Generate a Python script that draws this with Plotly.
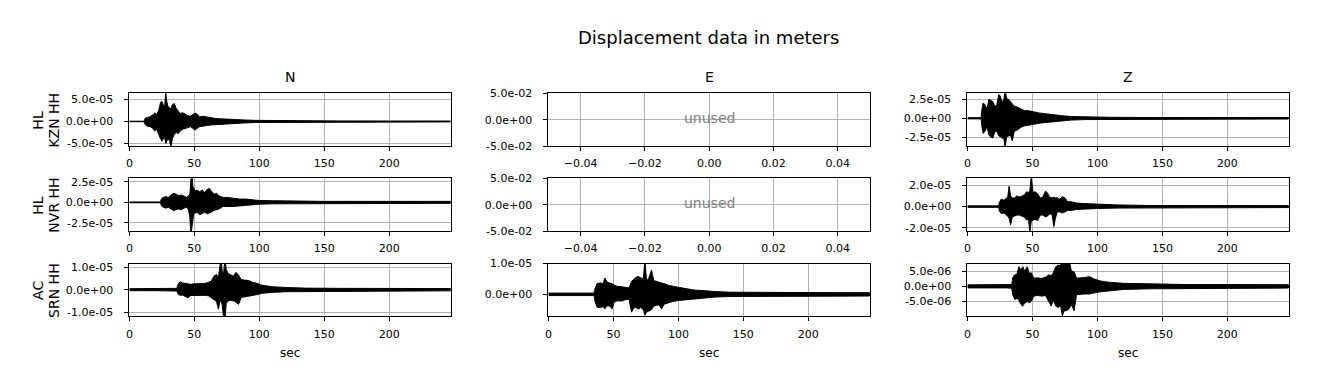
import plotly.graph_objects as go

W, H = 1318, 389
UM = 1e-6  # envelope values below are in micrometres

# ---------------- data (envelopes, micrometres) ----------------
n_kzn_t = [0, 11, 11.5, 12.5, 14, 16, 18, 19.5, 21, 22.5, 24, 25, 26, 27, 28, 28.5, 29.5, 31, 32, 33,
           34.5, 36, 37.5, 39, 41, 43, 45, 47, 49, 50.5, 52, 54, 56, 58, 60, 63, 66, 70, 75, 80,
           88, 96, 110, 130, 160, 200, 247]
n_kzn_up = [0.5, 0.5, 3, 8, 9, 11, 15, 19, 16, 25, 44, 46, 38, 30, 70, 50, 35, 30, 28, 38,
            41, 30, 25, 18, 20, 16, 13, 12, 16, 19, 17, 10, 12, 11, 9, 8, 7, 6, 5, 4.5,
            3.5, 2.5, 2.0, 1.5, 1.2, 1.0, 1.0]
n_kzn_lo = [-0.5, -0.5, -3, -8, -11, -12, -16, -22, -18, -30, -40, -45, -42, -35, -50, -48, -38, -45, -58, -40,
            -30, -25, -28, -22, -18, -16, -14, -12, -16, -20, -16, -12, -10, -10, -9, -8, -7, -6, -5, -4.5,
            -3.5, -2.5, -2.0, -1.5, -1.2, -1.0, -1.0]

n_nvr_t = [0, 24, 24.5, 26, 28, 30, 32, 34, 36, 38, 40, 42, 44, 45.5, 46.5, 47.3, 48, 48.8, 49.5, 50.5,
           52, 54, 56, 58, 60, 61.5, 63, 65, 67, 69, 72, 76, 80, 85, 90, 95, 100, 110, 125, 150,
           180, 210, 247]
n_nvr_up = [0.5, 0.5, 4, 6, 7, 6, 9, 11, 10, 8, 9, 7, 6, 8, 10, 26, 40, 20, 18, 14,
            15, 13, 15, 12, 16, 17, 14, 10, 11, 8, 6, 6, 5, 4, 4, 3, 2.2, 2.0, 1.5, 1.2,
            1.2, 1.2, 1.2]
n_nvr_lo = [-0.5, -0.5, -4, -6, -7, -6, -8, -10, -9, -8, -9, -7, -6, -9, -18, -40, -35, -22, -14, -13,
            -12, -15, -14, -12, -14, -13, -12, -10, -9, -8, -5, -5, -5, -4, -4, -3, -2.2, -1.8, -1.5, -1.2,
            -1.2, -1.2, -1.2]

n_srn_t = [0, 10, 20, 30, 36.5, 37.5, 39, 41, 43, 45, 47, 50, 53, 56, 59, 61, 63, 65, 67, 68.5,
           69.5, 70.5, 71.5, 72.5, 73.5, 74.5, 76, 78, 80, 82, 84, 86, 89, 92, 95, 98, 102, 110, 120, 135,
           160, 190, 220, 247]
n_srn_up = [0.45, 0.45, 0.45, 0.45, 0.6, 2.5, 3.5, 3.0, 2.8, 2.6, 2.4, 2.6, 2.5, 2.7, 2.9, 3.2, 3.8, 6.0, 6.8, 5.5,
            9, 14, 8, 7, 14, 9, 7.2, 6.5, 6.0, 7.7, 6.5, 4.5, 4.2, 4.0, 3.2, 2.9, 2.0, 1.3, 1.0, 0.7,
            0.6, 0.55, 0.55, 0.5]
n_srn_lo = [-0.45, -0.45, -0.45, -0.45, -0.6, -2.0, -2.5, -2.4, -2.8, -3.6, -2.6, -2.5, -2.4, -2.6, -2.5, -2.8, -3.6, -4.5, -5.2, -8.7,
            -5.5, -5.0, -7, -13, -14, -6, -5.0, -4.8, -5.0, -5.5, -6.5, -3.5, -3.2, -3.0, -2.5, -2.2, -1.6, -1.2, -0.9, -0.7,
            -0.6, -0.55, -0.55, -0.5]

e_srn_t = [0, 10, 20, 30, 35, 36, 37.5, 40, 42, 43.5, 45, 47, 49, 50.5, 53, 56, 59, 62, 64, 65.5,
           67, 69, 71, 73, 74.2, 75.5, 77, 79.3, 81, 83, 85, 87, 89, 92, 96, 100, 105, 112, 120, 128,
           140, 160, 190, 220, 247]
e_srn_up = [0.4, 0.4, 0.4, 0.4, 0.4, 2.0, 3.5, 3.7, 3.5, 5.3, 4.0, 3.7, 3.5, 3.0, 2.6, 2.5, 2.2, 2.1, 4.2, 5.0,
            5.5, 5.8, 5.3, 5.0, 11, 4.7, 5.0, 7.9, 4.5, 4.2, 3.8, 3.7, 3.5, 3.0, 2.6, 2.3, 1.8, 1.4, 1.2, 0.9,
            0.7, 0.6, 0.6, 0.55, 0.55]
e_srn_lo = [-0.4, -0.4, -0.4, -0.4, -0.4, -2.5, -4.2, -4.3, -4.0, -4.7, -3.7, -3.8, -4.7, -2.5, -2.1, -2.2, -1.8, -1.6, -5.8, -4.5,
            -4.2, -4.8, -4.3, -5.0, -6.8, -5.8, -5.5, -5.0, -3.8, -3.6, -3.4, -4.7, -3.2, -2.8, -2.3, -2.0, -1.6, -1.4, -1.2, -0.9,
            -0.7, -0.6, -0.6, -0.55, -0.55]

z_kzn_t = [0, 10.5, 11, 12, 13.5, 15, 16.5, 18, 19.5, 21, 22.5, 24, 25, 26.5, 28, 29, 30, 31.5, 33, 34.5,
           36, 38, 41, 44, 47, 51, 55, 60, 65, 72, 80, 92, 110, 140, 180, 247]
z_kzn_up = [0.8, 0.8, 10, 20, 18, 12, 25, 24, 22, 16, 17, 31, 30, 22, 24, 38, 26, 25, 22, 20,
            16, 15, 12, 10, 10, 8, 7, 6, 4.7, 3.5, 2.3, 1.7, 1.3, 1.0, 1.0, 1.0]
z_kzn_lo = [-0.8, -0.8, -10, -20, -17, -11, -22, -25, -26, -18, -17, -23, -24, -26, -27, -40, -25, -24, -22, -30,
            -17, -16, -12, -10, -9, -8, -6.5, -6, -4.5, -3.5, -2.3, -1.7, -1.3, -1.0, -1.0, -1.0]

z_nvr_t = [0, 24, 24.5, 26, 28, 30, 31, 32, 33.2, 34.5, 36, 38, 40, 42, 44, 45.5, 47, 48, 49, 50.5,
           52, 54, 56, 58, 60, 61.5, 63, 65, 66.5, 67.5, 69, 71, 73, 75, 77, 80, 84, 90, 100, 115,
           140, 180, 247]
z_nvr_up = [0.7, 0.7, 4, 7, 6, 8.4, 9, 19, 10, 8, 8, 10, 9, 10, 11, 14, 13, 15, 28, 13,
            14, 12, 8, 9, 14.4, 13, 9, 8, 9, 8, 8.4, 7, 9.3, 8, 4.8, 4.5, 3.3, 2.8, 2.1, 1.6,
            1.0, 0.9, 0.9]
z_nvr_lo = [-0.7, -0.7, -4, -6.6, -6, -8, -9, -11, -17, -9.6, -9, -8, -8, -9, -10, -12.6, -12, -25, -14, -12.6,
            -12, -13, -8, -8, -9.6, -9, -7, -7, -18.7, -12, -5, -5, -6, -5, -3.6, -3.6, -2.7, -2.3, -1.8, -1.4,
            -1.0, -0.9, -0.9]

z_srn_t = [0, 10, 20, 30, 34, 35, 36.5, 38, 39.6, 41, 42.5, 44, 46, 47.5, 49, 51, 54, 57, 60, 62.5,
           64.5, 66, 68, 70, 71.5, 73, 74.5, 76, 78, 80, 82, 84, 87, 90, 94, 97, 102, 108, 120, 140,
           170, 200, 247]
z_srn_up = [0.5, 0.5, 0.5, 0.5, 0.6, 3.0, 3.8, 4.0, 6.5, 5.4, 6.5, 5.0, 6.5, 4.3, 4.5, 2.7, 2.8, 2.6, 3.0, 3.8,
            3.5, 4.5, 6.5, 7, 6.8, 9, 9, 8.5, 9, 5, 4.8, 2.7, 2.7, 2.9, 3.2, 2.5, 1.8, 1.4, 1.0, 0.8,
            0.6, 0.6, 0.55]
z_srn_lo = [-0.5, -0.5, -0.5, -0.5, -0.6, -3.0, -4.3, -4.0, -4.5, -5.9, -6.5, -5.5, -5.0, -5.4, -5.0, -3.2, -3.0, -3.2, -3.0, -4.8,
            -6.5, -4.5, -6.5, -7, -6.0, -9.7, -8, -8.0, -7.5, -6, -8, -2.7, -2.7, -2.5, -2.5, -2.2, -1.8, -1.4, -1.0, -0.8,
            -0.6, -0.6, -0.55]

components = ["N", "E", "Z"]
stations = [("HL", "KZN HH"), ("HL", "NVR HH"), ("AC", "SRN HH")]
x_ticks = [0, 50, 100, 150, 200]
unused_x_ticks = [-0.04, -0.02, 0.0, 0.02, 0.04]
unused_y_ticks = [-0.05, 0.0, 0.05]

# panel grid: (row, col) -> (trace data, y range, y ticks)
panels = {
    (0, 0): ((n_kzn_t, n_kzn_up, n_kzn_lo), [-5.64e-5, 6.43e-5], [-5e-5, 0.0, 5e-5]),
    (1, 0): ((n_nvr_t, n_nvr_up, n_nvr_lo), [-3.52e-5, 2.93e-5], [-2.5e-5, 0.0, 2.5e-5]),
    (2, 0): ((n_srn_t, n_srn_up, n_srn_lo), [-1.19e-5, 1.16e-5], [-1e-5, 0.0, 1e-5]),
    (0, 1): (None, None, None),
    (1, 1): (None, None, None),
    (2, 1): ((e_srn_t, e_srn_up, e_srn_lo), [-7.2e-6, 1.001e-5], [0.0, 1e-5]),
    (0, 2): ((z_kzn_t, z_kzn_up, z_kzn_lo), [-3.68e-5, 3.3e-5], [-2.5e-5, 0.0, 2.5e-5]),
    (1, 2): ((z_nvr_t, z_nvr_up, z_nvr_lo), [-2.31e-5, 2.65e-5], [-2e-5, 0.0, 2e-5]),
    (2, 2): ((z_srn_t, z_srn_up, z_srn_lo), [-9.9e-6, 7.5e-6], [-5e-6, 0.0, 5e-6]),
}

# ---------------- geometry (pixels) ----------------
col_left = [126.7, 546.7, 966.7]
col_w = 322.3
row_top = [90.3, 178.3, 266.5]
row_h = 54.7
FONT = "DejaVu Sans"
TICKFONT = dict(family=FONT, size=11, color="black")


def px_x(p):
    return p / W


def px_y(p):
    return 1 - p / H


def efmt(v):
    return f"{v:.1e}"


def mfmt(v):
    return f"{v:.2f}".replace("-", "\u2212")


fig = go.Figure()
layout = dict(
    width=W, height=H, paper_bgcolor="white", plot_bgcolor="white",
    margin=dict(l=0, r=0, t=0, b=0), showlegend=False,
    font=dict(family=FONT, color="black"),
)
annotations = []

common_axis = dict(
    showline=True, linecolor="black", linewidth=1, mirror=True,
    ticks="outside", ticklen=4, tickwidth=1, tickcolor="black",
    showgrid=True, gridcolor="#b0b0b0", gridwidth=1, zeroline=False,
    tickfont=TICKFONT, fixedrange=True,
)
x_axis_extra = dict(ticklabelstandoff=3)
y_axis_extra = dict(ticklabelstandoff=9)

for (r, c), (data, yr, yt) in panels.items():
    k = r * 3 + c + 1
    xa = f"xaxis{k}"
    ya = f"yaxis{k}"
    xref = f"x{k}"
    yref = f"y{k}"
    x0 = col_left[c]
    y0 = row_top[r]
    xd = [px_x(x0), px_x(x0 + col_w)]
    yd = [px_y(y0 + row_h), px_y(y0)]
    if data is None:
        layout[xa] = dict(common_axis, **x_axis_extra, domain=xd, anchor=yref, range=[-0.05, 0.05],
                          tickmode="array", tickvals=unused_x_ticks,
                          ticktext=[mfmt(v) for v in unused_x_ticks])
        layout[ya] = dict(common_axis, **y_axis_extra, domain=yd, anchor=xref, range=[-0.05001, 0.05001],
                          tickmode="array", tickvals=unused_y_ticks,
                          ticktext=[efmt(v) for v in unused_y_ticks])
        fig.add_trace(go.Scatter(x=[None], y=[None], xaxis=xref, yaxis=yref,
                                 mode="lines", hoverinfo="skip"))
        annotations.append(dict(text="unused", x=0, y=0, xref=xref, yref=yref, yshift=2,
                                showarrow=False, font=dict(family=FONT, size=14, color="gray")))
    else:
        t, up, lo = data
        xs = list(t) + list(t)[::-1]
        ys = [u * UM for u in up] + [v * UM for v in lo][::-1]
        fig.add_trace(go.Scatter(x=xs, y=ys, xaxis=xref, yaxis=yref, mode="lines",
                                 fill="toself", fillcolor="black",
                                 line=dict(color="black", width=1), hoverinfo="skip"))
        layout[xa] = dict(common_axis, **x_axis_extra, domain=xd, anchor=yref, range=[0, 247.5],
                          tickmode="array", tickvals=x_ticks, ticktext=[str(v) for v in x_ticks])
        layout[ya] = dict(common_axis, **y_axis_extra, domain=yd, anchor=xref, range=yr,
                          tickmode="array", tickvals=yt, ticktext=[efmt(v) for v in yt])

# column titles and x labels
for c, name in enumerate(components):
    annotations.append(dict(text=name, x=px_x(col_left[c] + col_w / 2), y=px_y(84),
                            xref="paper", yref="paper", xanchor="center", yanchor="bottom",
                            showarrow=False, font=dict(family=FONT, size=14, color="black")))
    annotations.append(dict(text="sec", x=px_x(col_left[c] + col_w / 2), y=px_y(350),
                            xref="paper", yref="paper", xanchor="center", yanchor="top",
                            showarrow=False, font=dict(family=FONT, size=12, color="black")))

# station labels (two lines, rotated)
for r, (net, sta) in enumerate(stations):
    yc = px_y(row_top[r] + row_h / 2)
    annotations.append(dict(text=net, x=px_x(35), y=yc, xref="paper", yref="paper",
                            xanchor="center", yanchor="middle", textangle=-90, showarrow=False,
                            font=dict(family=FONT, size=14, color="black")))
    annotations.append(dict(text=sta, x=px_x(51), y=yc, xref="paper", yref="paper",
                            xanchor="center", yanchor="middle", textangle=-90, showarrow=False,
                            font=dict(family=FONT, size=14, color="black")))

# suptitle
annotations.append(dict(text="Displacement data in meters", x=px_x(707), y=px_y(20),
                        xref="paper", yref="paper", xanchor="center", yanchor="top",
                        showarrow=False, font=dict(family=FONT, size=18, color="black")))

layout["annotations"] = annotations
fig.update_layout(**layout)
fig.write_html("out.html", config={"displayModeBar": False},
               post_script="document.body.style.margin='0';")
